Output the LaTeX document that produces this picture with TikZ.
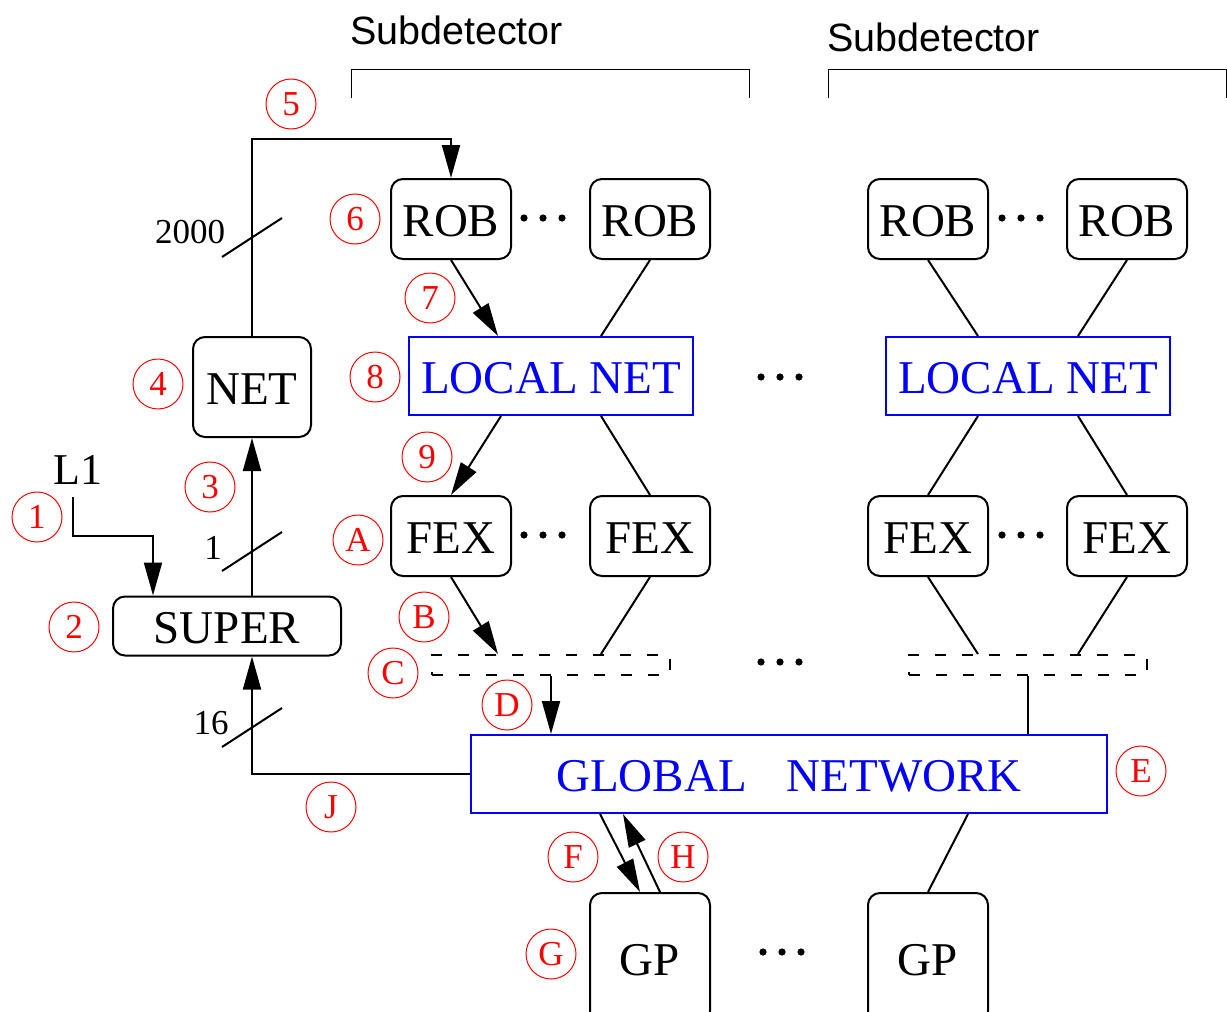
\documentclass[tikz,border=0pt]{standalone}
\usepackage{fontspec}
\setmainfont{Liberation Serif}
\newfontfamily\helv{Liberation Sans}
\usetikzlibrary{positioning, calc, arrows.meta}

\begin{document}
\begin{tikzpicture}[x=0.5pt, y=-0.5pt, line width=1pt, node distance=38.5pt,
  box/.style={rectangle, rounded corners=6pt, draw, minimum width=60pt, minimum height=40pt, inner sep=0pt, text height=17pt, text depth=0pt, font=\fontsize{23.5}{28}\selectfont},
  netbox/.style={rectangle, draw=blue, text=blue, minimum height=39pt, inner sep=0pt, text height=17pt, text depth=0pt, font=\fontsize{23.5}{28}\selectfont},
  circnum/.style={circle, draw=red, text=red, line width=0.5pt, minimum size=25pt, inner sep=0pt, font=\fontsize{17.5}{20}\selectfont},
  dashbox/.style={rectangle, draw, dash pattern=on 5.5pt off 8pt, minimum width=119pt, minimum height=10pt, inner sep=0pt},
  arr/.style={-{Triangle[length=16.5pt, width=9pt]}},
  small/.style={inner sep=0pt, font=\fontsize{17.5}{20}\selectfont},
  sub/.style={anchor=west, inner sep=0pt, font=\helv\fontsize{19.75}{22}\selectfont}]
\clip (0,0) rectangle (1227,1012);

\node (sd1) [sub] at (349,30) {Subdetector};
\node (sd2) [sub] at (826,37) {Subdetector};
\draw [line width=0.5pt] (351,98) |- (749,69) -- (749,98);
\draw [line width=0.5pt] (828,98) |- (1226,69) -- (1226,98);

\node (rob1) [box] at (451,219) {ROB};
\node (rob2) [box, right=of rob1] {ROB};
\node (rob3) [box] at (928,219) {ROB};
\node (rob4) [box, right=of rob3] {ROB};
\node (ln1) [netbox, minimum width=142pt] at (551,376) {LOCAL NET};
\node (ln2) [netbox, minimum width=142pt] at (1028,376) {LOCAL NET};
\node (fex1) [box] at (451,536) {FEX};
\node (fex2) [box, right=of fex1] {FEX};
\node (fex3) [box] at (928,536) {FEX};
\node (fex4) [box, right=of fex3] {FEX};
\node (dash1) [dashbox] at (551,665) {};
\node (dash2) [dashbox] at (1028,665) {};
\node (glob) [netbox, minimum width=318pt] at (789,774) {GLOBAL\hspace{0.85em}NETWORK};
\node (gp1) [box, minimum height=65pt] at (650,958) {GP};
\node (gp2) [box, minimum height=65pt] at (928,958) {GP};
\node (net) [box, minimum width=59pt, minimum height=50pt] at (252,387) {NET};
\node (super) [box, minimum width=114pt, minimum height=29.5pt] at (227,626) {SUPER};
\node (l1) [inner sep=0pt, font=\fontsize{22}{26}\selectfont] at (78,470) {L1};

% dots between the boxes
\foreach \dx/\dy in {543/218, 1021/218, 780/377, 543/535, 1021/535, 780/662, 782/952}
  \foreach \s in {-19,0,19}
    \fill (\dx+\s,\dy) circle (1.8pt);

% trigger path
\coordinate (c5) at (0,139);
\draw [arr] (net.north) -- (net.north |- c5) -| (rob1.north);
\draw [arr] (super.north -| net.south) -- (net.south);
\coordinate (l1in) at (73,497);
\coordinate (l1bend) at (153,536);
\draw [arr] (l1in) |- (l1bend) -- (l1bend |- super.north);
\draw [arr] (glob.west) -| (super.south -| net.south);
\foreach \y in {237,551,727}
  \draw (252,\y) ++(-30,20) -- ++(60,-39);
\node (w2000) [small] at (190,232) {2000};
\node (w1) [small] at (213,548) {1};
\node (w16) [small] at (211,723) {16};

% subdetector data path
\draw [arr] (rob1.south) -- ($(ln1.north)+(-53,0)$);
\draw (rob2.south) -- ($(ln1.north)+(50,0)$);
\draw (rob3.south) -- ($(ln2.north)+(-50,0)$);
\draw (rob4.south) -- ($(ln2.north)+(50,0)$);
\draw [arr] ($(ln1.south)+(-50,0)$) -- (fex1.north);
\draw ($(ln1.south)+(50,0)$) -- (fex2.north);
\draw ($(ln2.south)+(-50,0)$) -- (fex3.north);
\draw ($(ln2.south)+(50,0)$) -- (fex4.north);
\draw [arr] (fex1.south) -- ($(dash1.north)+(-53,0)$);
\draw (fex2.south) -- ($(dash1.north)+(50,0)$);
\draw (fex3.south) -- ($(dash2.north)+(-50,0)$);
\draw (fex4.south) -- ($(dash2.north)+(50,0)$);
\draw [arr] (dash1.south) -- (dash1.south |- glob.north);
\draw (dash2.south) -- (dash2.south |- glob.north);
\draw [arr] ($(glob.south)+(-189,0)$) -- ($(gp1.north)+(-10,0)$);
\draw [arr] ($(gp1.north)+(10,0)$) -- ($(glob.south)+(-166,0)$);
\draw ($(glob.south)+(179,0)$) -- (gp2.north);

% step numbers
\node (n1) [circnum] at (37,517) {1};
\node (n2) [circnum] at (74,627) {2};
\node (n3) [circnum] at (210,487) {3};
\node (n4) [circnum] at (158,384) {4};
\node (n5) [circnum] at (291,104) {5};
\node (n6) [circnum] at (355,219) {6};
\node (n7) [circnum] at (430,298) {7};
\node (n8) [circnum] at (375,377) {8};
\node (n9) [circnum] at (427,457) {9};
\node (nA) [circnum] at (358,540) {A};
\node (nB) [circnum] at (424,617) {B};
\node (nC) [circnum] at (393,673) {C};
\node (nD) [circnum] at (507,705) {D};
\node (nE) [circnum] at (1141,771) {E};
\node (nF) [circnum] at (573,857) {F};
\node (nG) [circnum] at (551,954) {G};
\node (nH) [circnum] at (683,857) {H};
\node (nJ) [circnum] at (331,807) {J};
\end{tikzpicture}
\end{document}
